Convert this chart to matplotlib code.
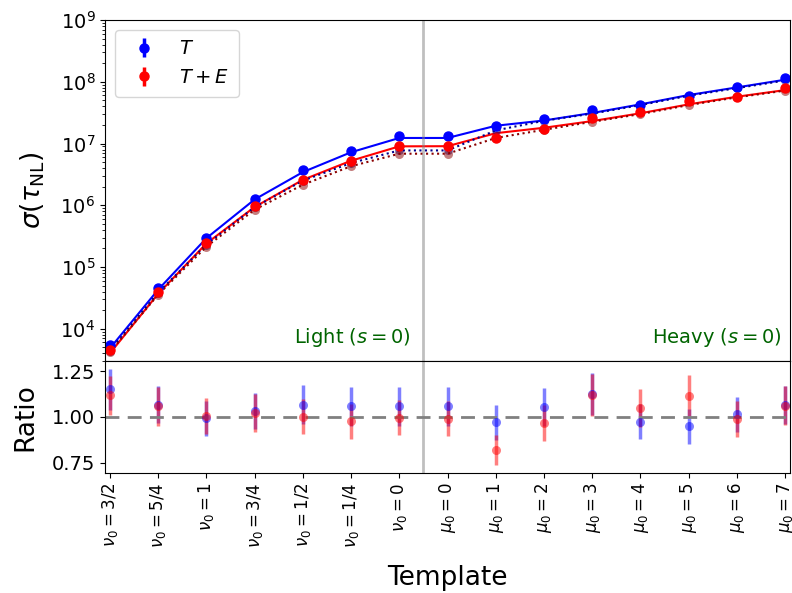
import matplotlib
matplotlib.use("Agg")
import matplotlib.pyplot as plt
import numpy as np

# ==========================================
# DATI
# ==========================================

TEMPLATE_LABELS = [r'$\nu_0 = 3/2$', r'$\nu_0 = 5/4$', r'$\nu_0 = 1$', r'$\nu_0 = 3/4$',
                   r'$\nu_0 = 1/2$', r'$\nu_0 = 1/4$', r'$\nu_0 = 0$',
                   r'$\mu_0 = 0$', r'$\mu_0 = 1$', r'$\mu_0 = 2$', r'$\mu_0 = 3$',
                   r'$\mu_0 = 4$', r'$\mu_0 = 5$', r'$\mu_0 = 6$', r'$\mu_0 = 7$']

# sigma misurata (punti con errorbar)
SIG_T_PTS  = [5.52e3, 4.57e4, 2.90e5, 1.28e6, 3.67e6, 7.64e6, 1.30e7, 1.30e7,
              1.89e7, 2.49e7, 3.49e7, 4.20e7, 5.79e7, 8.22e7, 1.15e8]
SIG_TE_PTS = [4.46e3, 3.88e4, 2.41e5, 9.58e5, 2.59e6, 5.13e6, 8.97e6, 8.97e6,
              1.21e7, 1.74e7, 2.59e7, 3.24e7, 4.81e7, 5.66e7, 7.80e7]

# previsione (linee continue)
SIG_T_LINE  = [4.80e3, 4.28e4, 2.92e5, 1.24e6, 3.44e6, 7.22e6, 1.23e7, 1.23e7,
               1.94e7, 2.36e7, 3.12e7, 4.31e7, 6.10e7, 8.11e7, 1.08e8]
SIG_TE_LINE = [3.99e3, 3.67e4, 2.40e5, 9.36e5, 2.58e6, 5.26e6, 9.00e6, 9.05e6,
               1.47e7, 1.80e7, 2.31e7, 3.09e7, 4.31e7, 5.73e7, 7.34e7]

# previsione alternativa (linee punteggiate)
SIG_T_DOT  = [4.42e3, 3.84e4, 2.30e5, 9.30e5, 2.50e6, 4.83e6, 7.73e6, 7.73e6,
              1.63e7, 2.34e7, 3.05e7, 4.20e7, 5.95e7, 7.90e7, 1.05e8]
SIG_TE_DOT = [4.17e3, 3.56e4, 2.13e5, 8.47e5, 2.15e6, 4.29e6, 6.84e6, 6.84e6,
              1.23e7, 1.67e7, 2.25e7, 3.00e7, 4.20e7, 5.60e7, 7.20e7]

# rapporto misura / previsione
RATIO_T      = [1.150, 1.067, 0.993, 1.032, 1.067, 1.058, 1.058, 1.058,
                0.972, 1.053, 1.125, 0.974, 0.949, 1.014, 1.067]
RATIO_T_ERR  = [0.110, 0.102, 0.095, 0.100, 0.106, 0.105, 0.105, 0.105,
                0.095, 0.103, 0.115, 0.096, 0.094, 0.094, 0.104]
RATIO_TE     = [1.119, 1.058, 1.005, 1.023, 1.002, 0.976, 0.997, 0.991,
                0.822, 0.967, 1.120, 1.050, 1.117, 0.988, 1.062]
RATIO_TE_ERR = [0.107, 0.105, 0.098, 0.105, 0.097, 0.096, 0.097, 0.097,
                0.082, 0.097, 0.115, 0.102, 0.110, 0.097, 0.105]

x = np.arange(len(TEMPLATE_LABELS))
err_t  = np.array(SIG_T_PTS)  * np.array(RATIO_T_ERR)  / np.array(RATIO_T)
err_te = np.array(SIG_TE_PTS) * np.array(RATIO_TE_ERR) / np.array(RATIO_TE)

# ==========================================
# GRAFICO
# ==========================================

fig = plt.figure(figsize=(7.92, 5.93), dpi=100)
ax1 = fig.add_axes([0.1326, 0.3912, 0.8649, 0.575])
ax2 = fig.add_axes([0.1326, 0.2024, 0.8649, 0.1888], sharex=ax1)

# ── Pannello superiore ────────────────────────────────────────────────
ax1.plot(x, SIG_T_LINE, '-', color='blue', lw=1.5)
ax1.plot(x, SIG_TE_LINE, '-', color='red', lw=1.5)
ax1.errorbar(x, SIG_T_PTS, yerr=err_t, fmt='o', color='blue', ms=6.5, lw=2.5,
             label=r'$T$')
ax1.errorbar(x, SIG_TE_PTS, yerr=err_te, fmt='o', color='red', ms=6.5, lw=2.5,
             label=r'$T+E$')
ax1.plot(x, SIG_T_DOT, 'o', color='darkblue', ms=6.5, alpha=0.5,
         markeredgewidth=0)
ax1.plot(x, SIG_T_DOT, ':', color='darkblue', lw=1.5)
ax1.plot(x, SIG_TE_DOT, 'o', color='darkred', ms=6.5, alpha=0.5,
         markeredgewidth=0)
ax1.plot(x, SIG_TE_DOT, ':', color='darkred', lw=1.5)

ax1.axvline(6.5, color='gray', alpha=0.5, lw=2)
ax1.set_yscale('log')
ax1.set_ylim(3e3, 1e9)
ax1.set_xlim(-0.1, 14.1)
ax1.set_ylabel(r'$\sigma(\tau_{\rm NL})$', fontsize=19, labelpad=10)
ax1.tick_params(axis='y', labelsize=14)
ax1.tick_params(axis='x', labelbottom=False)
ax1.text(6.25, 0.035, r'Light ($s=0$)', color='darkgreen', fontsize=14,
         ha='right', va='bottom', transform=ax1.get_xaxis_transform())
ax1.text(13.93, 0.035, r'Heavy ($s=0$)', color='darkgreen', fontsize=14,
         ha='right', va='bottom', transform=ax1.get_xaxis_transform())
ax1.legend(loc='upper left', fontsize=14, borderpad=0.5, labelspacing=0.5)

# ── Pannello rapporto ─────────────────────────────────────────────────
ax2.errorbar(x, RATIO_T, yerr=RATIO_T_ERR, fmt='o', color='blue', ms=6.5,
             lw=2.5, alpha=0.5, markeredgewidth=0)
ax2.errorbar(x, RATIO_TE, yerr=RATIO_TE_ERR, fmt='o', color='red', ms=6.5,
             lw=2.5, alpha=0.5, markeredgewidth=0)
ax2.axhline(1.0, color='gray', ls='--', lw=2, dashes=(5, 3))
ax2.axvline(6.5, color='gray', alpha=0.5, lw=2)
ax2.set_ylim(0.695, 1.305)
ax2.set_yticks([0.75, 1.00, 1.25])
ax2.set_ylabel('Ratio', fontsize=19, labelpad=10)
ax2.set_xticks(x)
ax2.set_xticklabels(TEMPLATE_LABELS, rotation=90, fontsize=12)
ax2.tick_params(axis='y', labelsize=14)
ax2.set_xlabel('Template', fontsize=19, labelpad=12)

plt.savefig('out.png', dpi=100)
plt.close(fig)
